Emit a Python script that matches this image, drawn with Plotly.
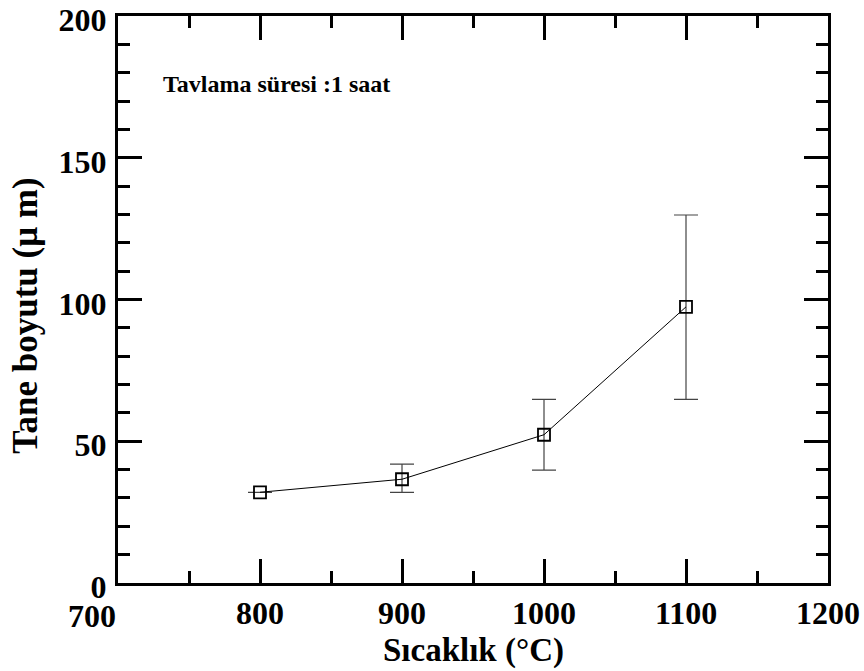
import plotly.graph_objects as go

temperature = [800, 900, 1000, 1100]
grain_size = [32.0, 36.6, 52.3, 97.4]
err_plus = [0.0, 5.3, 12.5, 32.4]
err_minus = [0.0, 4.6, 12.5, 32.6]

x_ticks = [700, 800, 900, 1000, 1100, 1200]
y_ticks = [0, 50, 100, 150, 200]

x_title = "Sıcaklık (°C)"
y_title = "Tane boyutu (μ m)"
note = "Tavlama süresi :1 saat"

FONT = "Liberation Serif"
TICKFONT = dict(family=FONT, size=32, color="black", weight="bold")

fig = go.Figure()
fig.add_trace(go.Scatter(
    x=temperature, y=grain_size,
    mode="lines+markers",
    line=dict(color="black", width=1),
    marker=dict(symbol="square-open", size=12, color="black", line=dict(width=1.8, color="black")),
    error_y=dict(type="data", symmetric=False, array=err_plus, arrayminus=err_minus,
                 width=12, thickness=1.2, color="#444444"),
    showlegend=False,
))

axis_common = dict(
    showline=True, linecolor="black", linewidth=3, mirror="allticks",
    ticks="inside", ticklen=24, tickwidth=3, tickcolor="black",
    showgrid=False, zeroline=False, automargin=False,
    tickfont=TICKFONT, ticklabeloverflow="allow",
)

# first x label (700) is drawn separately, nudged left like the reference
x_ticktext = ["" if v == x_ticks[0] else str(v) for v in x_ticks]

fig.update_xaxes(
    range=[700, 1200], tickvals=x_ticks, ticktext=x_ticktext,
    minor=dict(ticks="inside", ticklen=12, tickwidth=3, tickcolor="black", dtick=50, tick0=700),
    ticklabelstandoff=0,
    **axis_common,
)
fig.update_yaxes(
    range=[0, 200], tickvals=y_ticks, ticktext=[str(v) for v in y_ticks],
    minor=dict(ticks="inside", ticklen=12, tickwidth=3, tickcolor="black", dtick=10, tick0=0),
    ticklabelstandoff=2, ticklabelshift=4,
    **axis_common,
)

fig.add_annotation(
    x=x_ticks[0], y=0, xref="x", yref="paper", xanchor="right", yanchor="top",
    yshift=-13, text=str(x_ticks[0]), showarrow=False, font=TICKFONT,
)

fig.add_annotation(
    x=0.5, y=-0.119, xref="paper", yref="paper", xanchor="center", yanchor="middle",
    text="<b>" + x_title + "</b>", showarrow=False,
    font=dict(family=FONT, size=33, color="black"),
)
fig.add_annotation(
    x=-0.13, y=0.471, xref="paper", yref="paper", xanchor="center", yanchor="middle",
    text="<b>" + y_title + "</b>", showarrow=False, textangle=-90,
    font=dict(family=FONT, size=35, color="black"),
)

fig.add_annotation(
    x=0.06, y=0.88, xref="paper", yref="paper", xanchor="left", yanchor="middle",
    text="<b>" + note + "</b>", showarrow=False,
    font=dict(family=FONT, size=24, color="black"),
)

fig.update_layout(
    width=864, height=671,
    margin=dict(l=118, r=36, t=16, b=88, autoexpand=False),
    paper_bgcolor="white", plot_bgcolor="white",
    font=dict(family=FONT, color="black"),
)

fig.write_html("out.html")
